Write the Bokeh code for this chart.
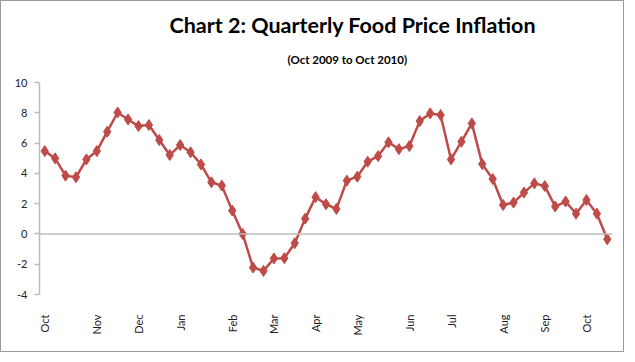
from bokeh.plotting import figure
from bokeh.models import Range1d, FixedTicker, Span, Title
from bokeh.embed import file_html
from bokeh.resources import INLINE
import math

# Weekly food price inflation, Oct 2009 to Oct 2010
values = [5.47, 4.99, 3.85, 3.74, 4.92, 5.47, 6.75, 8.02, 7.56, 7.12,
          7.19, 6.20, 5.21, 5.87, 5.39, 4.59, 3.41, 3.19, 1.54, 0.00,
          -2.22, -2.44, -1.62, -1.60, -0.61, 1.01, 2.43, 1.96, 1.65, 3.52,
          3.78, 4.77, 5.14, 6.05, 5.60, 5.80, 7.45, 7.96, 7.85, 4.92,
          6.09, 7.30, 4.61, 3.63, 1.91, 2.07, 2.73, 3.34, 3.16, 1.81,
          2.14, 1.34, 2.24, 1.34, -0.35]
tick_positions = [0, 5, 9, 13, 18, 22, 26, 30, 35, 39, 44, 48, 52]
tick_labels = ["Oct", "Nov", "Dec", "Jan", "Feb", "Mar", "Apr", "May",
               "Jun", "Jul", "Aug", "Sep", "Oct"]
y_ticks = [-4, -2, 0, 2, 4, 6, 8, 10]
title_text = "Chart 2: Quarterly Food Price Inflation"
subtitle_text = "(Oct 2009 to Oct 2010)"

x = list(range(len(values)))

W, H = 624, 352
p = figure(width=W, height=H, output_backend="svg", toolbar_location=None,
           x_range=Range1d(-0.5, len(values) - 0.5), y_range=Range1d(-4, 10),
           min_border_left=38, min_border_right=13, min_border_top=81,
           min_border_bottom=59)
p.styles = {"border": "1px solid #9a9a9a"}
p.outline_line_color = None
p.grid.visible = False
p.background_fill_color = "white"
p.border_fill_color = "white"

FONT = "Lato"
p.add_layout(Title(text=subtitle_text, align="left", offset=248, standoff=33,
                   text_font=FONT, text_font_size="11.5px", text_font_style="bold",
                   text_color="#000000"), "above")
p.add_layout(Title(text=title_text, align="left", offset=130, standoff=-6,
                   text_font=FONT, text_font_size="21.5px", text_font_style="bold",
                   text_color="#000000"), "above")

p.add_layout(Span(location=0, dimension="width", line_color="#bcbcbc", line_width=1.5))

p.line(x, values, line_color="#BE4B48", line_width=2.5)
p.scatter(x, values, marker="diamond", size=11, fill_color="#BE4B48",
          line_color="#BE4B48")

xa = p.xaxis[0]
xa.ticker = FixedTicker(ticks=tick_positions)
xa.major_label_overrides = {t: l for t, l in zip(tick_positions, tick_labels)}
xa.major_label_orientation = math.pi / 2
xa.axis_line_color = None
xa.major_tick_line_color = None
xa.minor_tick_line_color = None
xa.major_label_standoff = 14
xa.major_label_text_font = FONT
xa.major_label_text_font_size = "11px"
xa.major_label_text_color = "#222222"

ya = p.yaxis[0]
ya.ticker = FixedTicker(ticks=y_ticks)
ya.major_label_overrides = {t: str(t) for t in y_ticks}
ya.axis_line_color = "#bcbcbc"
ya.axis_line_width = 1.5
ya.major_tick_line_color = "#bcbcbc"
ya.major_tick_line_width = 1.5
ya.major_tick_out = 5
ya.major_tick_in = 0
ya.minor_tick_line_color = None
ya.major_label_standoff = 7
ya.major_label_text_font = FONT
ya.major_label_text_font_size = "11px"
ya.major_label_text_color = "#222222"

open("out.html", "w").write(file_html(p, INLINE))
